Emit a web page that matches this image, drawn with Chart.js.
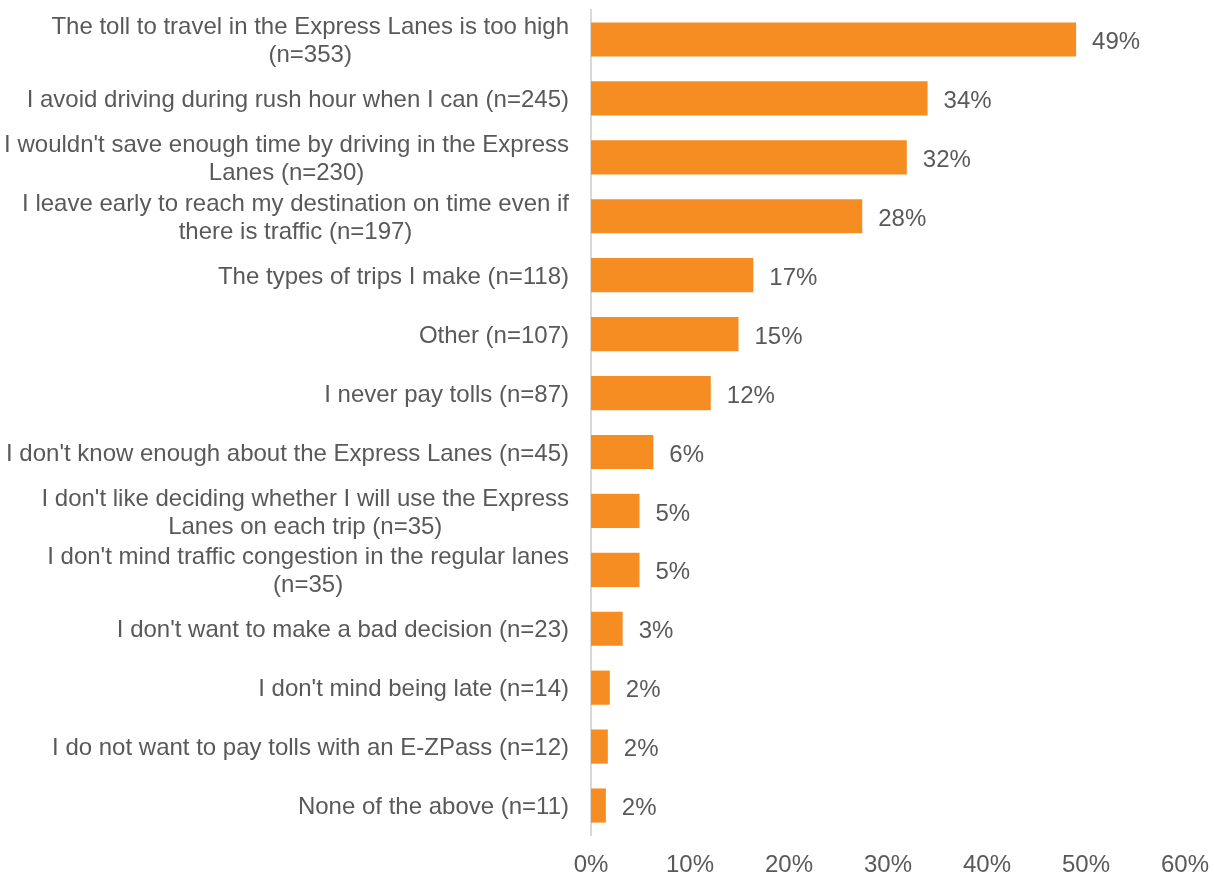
<!DOCTYPE html>
<html>
<head>
<meta charset="utf-8">
<script src="https://cdn.jsdelivr.net/npm/chart.js@4.4.1/dist/chart.umd.min.js"></script>
<style>
	html, body { margin: 0; padding: 0; background: #fff; }
	#wrap { width: 1214px; height: 876px; position: relative; }
</style>
</head>
<body>
<div id="wrap"><canvas id="bar-reasons"></canvas></div>
<script>
// category labels (each entry = lines of the label)
var categories = [
	["The toll to travel in the Express Lanes is too high", "(n=353)"],
	["I avoid driving during rush hour when I can (n=245)"],
	["I wouldn't save enough time by driving in the Express", "Lanes (n=230)"],
	["I leave early to reach my destination on time even if", "there is traffic (n=197)"],
	["The types of trips I make (n=118)"],
	["Other (n=107)"],
	["I never pay tolls (n=87)"],
	["I don't know enough about the Express Lanes (n=45)"],
	["I don't like deciding whether I will use the Express", "Lanes on each trip (n=35)"],
	["I don't mind traffic congestion in the regular lanes", "(n=35)"],
	["I don't want to make a bad decision (n=23)"],
	["I don't mind being late (n=14)"],
	["I do not want to pay tolls with an E-ZPass (n=12)"],
	["None of the above (n=11)"]
];
var percentValues = [49.0, 34.0, 31.9, 27.4, 16.4, 14.9, 12.1, 6.3, 4.9, 4.9, 3.2, 1.9, 1.7, 1.5];
var valueLabels = ['49%', '34%', '32%', '28%', '17%', '15%', '12%', '6%', '5%', '5%', '3%', '2%', '2%', '2%'];
var tickValues = [0, 10, 20, 30, 40, 50, 60];

const FONT = "'Liberation Sans', Arial, sans-serif";
const TEXT_COLOR = '#595959';
const FONT_SIZE = 24;

// draws the category labels: block right aligned, lines centred inside the block
const categoryLabels = {
	id: 'categoryLabels',
	afterDraw: (chart) => {
		const ctx = chart.ctx;
		const yScale = chart.scales.y;
		const rightX = chart.chartArea.left - 22;
		const lineH = 28;
		ctx.save();
		ctx.font = FONT_SIZE + 'px ' + FONT;
		ctx.fillStyle = TEXT_COLOR;
		ctx.textAlign = 'center';
		ctx.textBaseline = 'middle';
		categories.forEach((lines, i) => {
			const y = yScale.getPixelForTick(i) + 2;
			let maxW = 0;
			lines.forEach((l) => { maxW = Math.max(maxW, ctx.measureText(l).width); });
			const cx = rightX - maxW / 2;
			lines.forEach((l, j) => {
				ctx.fillText(l, cx, y + (j - (lines.length - 1) / 2) * lineH);
			});
		});
		ctx.restore();
	}
};

// value labels at the end of each bar
const valueLabelPlugin = {
	id: 'valueLabels',
	afterDatasetsDraw: (chart) => {
		const ctx = chart.ctx;
		const meta = chart.getDatasetMeta(0);
		ctx.save();
		ctx.font = FONT_SIZE + 'px ' + FONT;
		ctx.fillStyle = TEXT_COLOR;
		ctx.textAlign = 'left';
		ctx.textBaseline = 'middle';
		meta.data.forEach((bar, i) => {
			ctx.fillText(valueLabels[i], bar.x + 16, bar.y + 3);
		});
		ctx.restore();
	}
};

new Chart(document.getElementById('bar-reasons'), {
	type: 'bar',
	data: {
		labels: categories.map((l) => l.join(' ')),
		datasets: [{
			data: percentValues,
			backgroundColor: '#f68d23',
			borderWidth: 0,
			categoryPercentage: 1,
			barPercentage: 0.58
		}]
	},
	options: {
		indexAxis: 'y',
		responsive: true,
		maintainAspectRatio: false,
		animation: false,
		layout: {
			padding: { left: 0, right: 29, top: 10, bottom: 0 }
		},
		plugins: {
			legend: { display: false },
			tooltip: { enabled: false }
		},
		scales: {
			x: {
				min: tickValues[0],
				max: tickValues[tickValues.length - 1],
				afterBuildTicks: (axis) => {
					axis.ticks = tickValues.map((v) => ({ value: v }));
				},
				afterFit: (axis) => {
					axis.height = 41;
					axis.paddingLeft = 0;
					axis.paddingRight = 0;
				},
				grid: { display: false },
				border: { display: false },
				ticks: {
					padding: 8,
					color: TEXT_COLOR,
					font: { family: FONT, size: FONT_SIZE },
					callback: (v) => v + '%'
				}
			},
			y: {
				afterFit: (axis) => {
					axis.width = 591;
					axis.paddingTop = 0;
					axis.paddingBottom = 0;
				},
				grid: { display: false },
				border: { display: true, color: '#d9d9d9', width: 2 },
				ticks: { display: false }
			}
		}
	},
	plugins: [categoryLabels, valueLabelPlugin]
});
</script>
</body>
</html>
